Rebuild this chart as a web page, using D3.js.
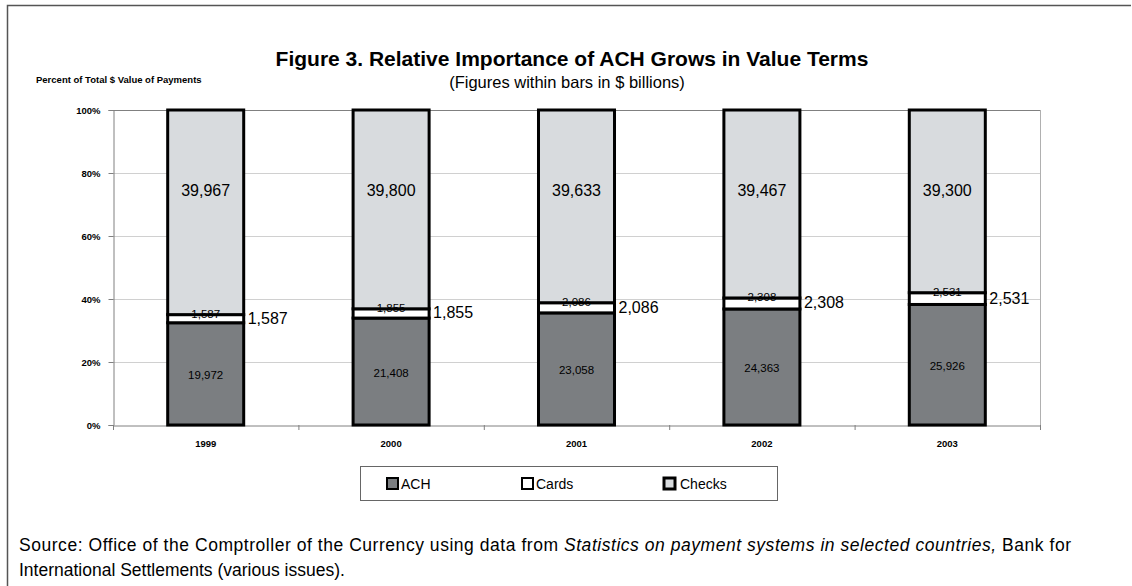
<!DOCTYPE html>
<html>
<head>
<meta charset="utf-8">
<script src="https://cdn.jsdelivr.net/npm/d3@7"></script>
<style>
  html, body { margin: 0; padding: 0; background: #fff; }
  svg { display: block; }
</style>
</head>
<body>
<svg id="chart" width="1132" height="586"></svg>
<script>
// Payment values in $ billions
const years = ["1999", "2000", "2001", "2002", "2003"];
const ach = [19972, 21408, 23058, 24363, 25926];
const cards = [1587, 1855, 2086, 2308, 2531];
const checks = [39967, 39800, 39633, 39467, 39300];
const yTicks = [0, 0.2, 0.4, 0.6, 0.8, 1.0];
const seriesNames = ["ACH", "Cards", "Checks"];
const checksLabelLevel = 0.746;

const colors = { ACH: "#7b7e81", Cards: "#ffffff", Checks: "#d8dbde" };
const sans = "'Liberation Sans', Arial, sans-serif";
const fmt = d3.format(",");

const svg = d3.select("#chart");

// outer frame (top and left edges)
svg.append("path")
  .attr("d", "M7.5,586 L7.5,5.5 L1131,5.5")
  .attr("fill", "none").attr("stroke", "#555").attr("stroke-width", 1.5);

const plot = { left: 113, right: 1040, top: 110, bottom: 425 };

const x = d3.scaleBand().domain(years).range([plot.left, plot.right]).padding(0);
const barW = x.bandwidth() * 0.41;
const y = d3.scaleLinear().domain([0, 1]).range([plot.bottom, plot.top]);

const rows = years.map((yr, i) => ({ year: yr, ACH: ach[i], Cards: cards[i], Checks: checks[i] }));
const stack = d3.stack().keys(seriesNames).offset(d3.stackOffsetExpand);
const layers = stack(rows);

// gridlines
svg.append("g").selectAll("line")
  .data(yTicks.filter(t => t > 0))
  .join("line")
  .attr("x1", plot.left).attr("x2", plot.right)
  .attr("y1", d => Math.round(y(d)) + 0.5).attr("y2", d => Math.round(y(d)) + 0.5)
  .attr("stroke", d => d === 1 ? "#808080" : "#d0d0d0").attr("stroke-width", 1);

// right plot edge
svg.append("line")
  .attr("x1", plot.right + 0.5).attr("x2", plot.right + 0.5)
  .attr("y1", plot.top).attr("y2", plot.bottom)
  .attr("stroke", "#b0b0b0");

// y axis
const yAxis = svg.append("g")
  .attr("transform", `translate(${plot.left + 0.5},0)`)
  .call(d3.axisLeft(y).tickValues(yTicks).tickFormat(d3.format(".0%")).tickSize(5).tickPadding(8));
yAxis.select(".domain").attr("stroke", "#808080");
yAxis.selectAll(".tick line").attr("stroke", "#808080");
yAxis.selectAll("text")
  .attr("font-family", sans).attr("font-size", 9.5).attr("font-weight", "bold").attr("fill", "#000");

// x axis
const xAxis = svg.append("g")
  .attr("transform", `translate(0,${plot.bottom + 0.5})`)
  .call(d3.axisBottom(x).tickSize(0).tickPadding(15));
xAxis.select(".domain").attr("stroke", "#808080");
xAxis.selectAll("text")
  .attr("font-family", sans).attr("font-size", 9.5).attr("font-weight", "bold").attr("fill", "#000");
// category separators on the x axis
svg.append("g").selectAll("line")
  .data(years.concat(["end"]))
  .join("line")
  .attr("x1", (d, i) => plot.left + i * x.step() + 0.5)
  .attr("x2", (d, i) => plot.left + i * x.step() + 0.5)
  .attr("y1", plot.bottom).attr("y2", plot.bottom + 5)
  .attr("stroke", "#808080");

// stacked bars
const barX = yr => x(yr) + (x.bandwidth() - barW) / 2;
svg.append("g").selectAll("g")
  .data(layers)
  .join("g")
  .attr("fill", d => colors[d.key])
  .selectAll("rect")
  .data(d => d)
  .join("rect")
  .attr("x", d => barX(d.data.year))
  .attr("width", barW)
  .attr("y", d => y(d[1]))
  .attr("height", d => y(d[0]) - y(d[1]))
  .attr("stroke", "#000").attr("stroke-width", 3);

const [achL, cardsL, checksL] = layers;

// ACH values
svg.append("g").selectAll("text")
  .data(achL)
  .join("text")
  .attr("x", d => x(d.data.year) + x.bandwidth() / 2)
  .attr("y", d => y((d[0] + d[1]) / 2) + 5)
  .attr("text-anchor", "middle")
  .attr("font-family", sans).attr("font-size", 11.5)
  .text(d => fmt(d.data.ACH));

// Cards values inside (sitting on the segment's top edge)
svg.append("g").selectAll("text")
  .data(cardsL)
  .join("text")
  .attr("x", d => x(d.data.year) + x.bandwidth() / 2)
  .attr("y", d => y(d[1]) + 3)
  .attr("text-anchor", "middle")
  .attr("font-family", sans).attr("font-size", 11.5)
  .text(d => fmt(d.data.Cards));

// Cards values to the right of each bar
svg.append("g").selectAll("text")
  .data(cardsL)
  .join("text")
  .attr("x", d => barX(d.data.year) + barW + 4)
  .attr("y", d => y((d[0] + d[1]) / 2) + 5)
  .attr("font-family", sans).attr("font-size", 16)
  .text(d => fmt(d.data.Cards));

// Checks values
svg.append("g").selectAll("text")
  .data(checksL)
  .join("text")
  .attr("x", d => x(d.data.year) + x.bandwidth() / 2)
  .attr("y", y(checksLabelLevel) + 6)
  .attr("text-anchor", "middle")
  .attr("font-family", sans).attr("font-size", 16)
  .text(d => fmt(d.data.Checks));

// titles
svg.append("text")
  .attr("x", 572).attr("y", 66).attr("text-anchor", "middle")
  .attr("font-family", sans).attr("font-size", 21).attr("font-weight", "bold")
  .text("Figure 3. Relative Importance of ACH Grows in Value Terms");
svg.append("text")
  .attr("x", 567).attr("y", 88).attr("text-anchor", "middle")
  .attr("font-family", sans).attr("font-size", 16.5)
  .text("(Figures within bars in $ billions)");
svg.append("text")
  .attr("x", 36).attr("y", 83)
  .attr("font-family", sans).attr("font-size", 9.5).attr("font-weight", "bold")
  .text("Percent of Total $ Value of Payments");

// legend
const legend = svg.append("g");
legend.append("rect")
  .attr("x", 360.5).attr("y", 466.5).attr("width", 417).attr("height", 34)
  .attr("fill", "#fff").attr("stroke", "#666").attr("stroke-width", 1);
const legendX = [387, 522, 664];
const legendItems = legend.selectAll("g")
  .data(seriesNames)
  .join("g")
  .attr("transform", (d, i) => `translate(${legendX[i]},478)`);
legendItems.append("rect")
  .attr("x", 0).attr("y", 0).attr("width", 11).attr("height", 11)
  .attr("fill", d => colors[d]).attr("stroke", "#000")
  .attr("stroke-width", d => d === "Checks" ? 3 : 2);
legendItems.append("text")
  .attr("x", d => d === "Checks" ? 16 : 14).attr("y", 11)
  .attr("font-family", sans).attr("font-size", 14)
  .text(d => d);

// source note
const src1 = svg.append("text")
  .attr("x", 19).attr("y", 551)
  .attr("font-family", sans).attr("font-size", 17.5)
  .attr("textLength", 1052).attr("lengthAdjust", "spacing");
src1.append("tspan").text("Source: Office of the Comptroller of the Currency using data from ");
src1.append("tspan").attr("font-style", "italic").text("Statistics on payment systems in selected countries,");
src1.append("tspan").text(" Bank for");
svg.append("text")
  .attr("x", 19).attr("y", 576)
  .attr("font-family", sans).attr("font-size", 17.5)
  .text("International Settlements (various issues).");
</script>
</body>
</html>
